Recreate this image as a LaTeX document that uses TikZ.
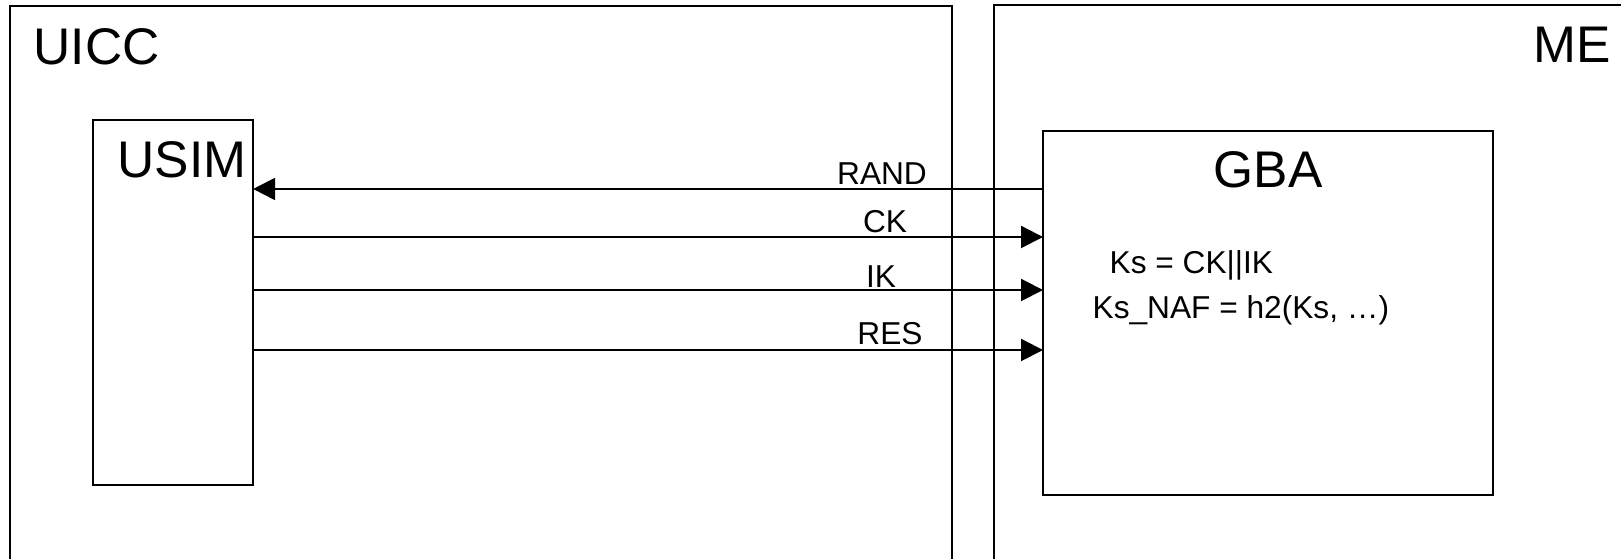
\documentclass[tikz,border=0pt]{standalone}
\usepackage{fontspec}
\setmainfont{Liberation Sans}
\usetikzlibrary{arrows.meta, positioning}

\begin{document}
\begin{tikzpicture}[
  x=0.01cm, y=-0.01cm,
  box/.style={rectangle, draw, line width=0.6pt, outer sep=0pt, inner sep=0pt,
    anchor=north west},
  title/.style={inner sep=0pt, font=\fontsize{14.65}{17}\selectfont},
  lbl/.style={inner sep=0pt, anchor=base, font=\fontsize{9}{11}\selectfont},
  arr/.style={-{Triangle[length=0.22cm, width=0.22cm]}, line width=0.6pt}
]
\useasboundingbox (0,0) rectangle (1621,559);
\clip (0,0) rectangle (1621,559);

% outer boxes, open at the bottom
\node[box, minimum width=9.41cm, minimum height=6cm] (uicc) at (10,6) {};
\node[box, minimum width=7.2cm, minimum height=6cm] (me) at (994,5) {};
\node[box, minimum width=1.60cm, minimum height=3.65cm] (usim) at (93,120) {};
\node[box, minimum width=4.50cm, minimum height=3.64cm] (gba) at (1043,131) {};

\node[title, anchor=base west] (uicctxt) at (33,65) {UICC};
\node[title, anchor=base west] (metxt) at (1533,63) {ME};
\node[title, anchor=base west] (usimtxt) at (117,178) {USIM};
\node[title, anchor=base] (gbatxt) at (1268,188) {GBA};

\node[lbl, anchor=base west] (ks) at (1109,274) {Ks = CK||IK};
\node[lbl, anchor=base west] (ksnaf) at (1092,319) {Ks\_NAF = h2(Ks, …)};

% messages
\draw[arr] (gba.west |- 0,189) -- (usim.east |- 0,189);
\draw[arr] (usim.east |- 0,237) -- (gba.west |- 0,237);
\draw[arr] (usim.east |- 0,290) -- (gba.west |- 0,290);
\draw[arr] (usim.east |- 0,350) -- (gba.west |- 0,350);

\node[lbl] (rand) at (882,185) {RAND};
\node[lbl] (ck) at (885,233) {CK};
\node[lbl] (ik) at (881,288) {IK};
\node[lbl] (res) at (890,345) {RES};
\end{tikzpicture}
\end{document}
